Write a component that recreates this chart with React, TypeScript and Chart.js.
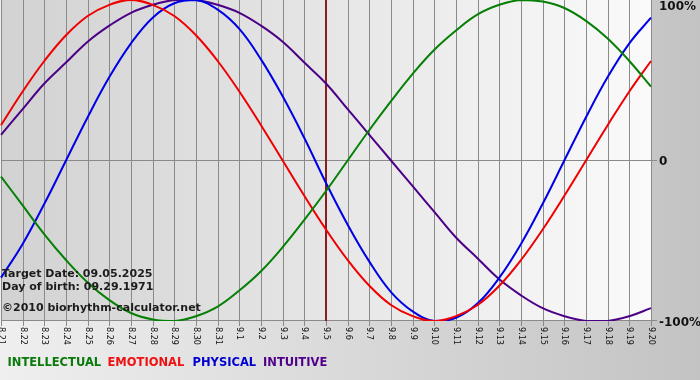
import React, { useEffect, useRef } from 'react';
import { Chart, registerables } from 'chart.js';

Chart.register(...registerables);

const dates = ['8.21', '8.22', '8.23', '8.24', '8.25', '8.26', '8.27', '8.28', '8.29', '8.30', '8.31',
  '9.1', '9.2', '9.3', '9.4', '9.5', '9.6', '9.7', '9.8', '9.9', '9.10',
  '9.11', '9.12', '9.13', '9.14', '9.15', '9.16', '9.17', '9.18', '9.19', '9.20'];

const intellectual = [-10, -28, -46, -62, -76, -87, -95, -99, -100, -97, -91, -81, -69, -54, -37, -19, 0, 19, 37, 54, 69, 81, 91, 97, 100, 99, 95, 87, 76, 62, 46];
const emotional = [22, 43, 62, 78, 90, 97, 100, 97, 90, 78, 62, 43, 22, 0, -22, -43, -62, -78, -90, -97, -100, -97, -90, -78, -62, -43, -22, 0, 22, 43, 62];
const physical = [-73, -52, -27, 0, 27, 52, 73, 89, 98, 100, 94, 82, 63, 40, 14, -14, -40, -63, -82, -94, -100, -98, -89, -73, -52, -27, 0, 27, 52, 73, 89];
const intuitive = [16, 32, 48, 61, 74, 84, 92, 97, 100, 100, 97, 92, 84, 74, 61, 48, 32, 16, 0, -16, -32, -48, -61, -74, -84, -92, -97, -100, -100, -97, -92];

const seriesNames = ['INTELLECTUAL', 'EMOTIONAL', 'PHYSICAL', 'INTUITIVE'];
const lineColors = ['#058005', '#f00000', '#0000e6', '#4b0086'];
const legendColors = ['#0a7a0a', '#f01010', '#0000d0', '#50008a'];

const targetDate = '9.5';
const yTicks = [100, 0, -100];
const yTickLabels = ['100%', '0', '-100%'];
const infoLines = ['Target Date: 09.05.2025', 'Day of birth: 09.29.1971', '©2010 biorhythm-calculator.net'];

export default function App() {
  const ref = useRef<HTMLCanvasElement>(null);

  useEffect(() => {
    const canvas = ref.current!;
    const plugin = {
      id: 'bioDecor',
      beforeDraw(chart: any) {
        const { ctx, chartArea: a, width, height } = chart;
        ctx.save();
        let g = ctx.createLinearGradient(0, 0, width, 0);
        g.addColorStop(0, '#efefef');
        g.addColorStop(1, '#c3c3c3');
        ctx.fillStyle = g;
        ctx.fillRect(0, 0, width, height);
        g = ctx.createLinearGradient(a.left, 0, a.right, 0);
        g.addColorStop(0, '#d2d2d2');
        g.addColorStop(1, '#fafafa');
        ctx.fillStyle = g;
        ctx.fillRect(a.left, a.top, a.right - a.left, a.bottom - a.top);

        const xs = chart.scales.x;
        const ys = chart.scales.y;
        ctx.strokeStyle = '#8a8a8a';
        ctx.lineWidth = 1;
        dates.forEach((_d, i) => {
          const x = Math.round(xs.getPixelForValue(i)) + 0.5;
          ctx.beginPath();
          ctx.moveTo(x, a.top);
          ctx.lineTo(x, a.bottom + 5);
          ctx.stroke();
        });
        [0, -100].forEach((v) => {
          const y = Math.round(ys.getPixelForValue(v)) - 0.5;
          ctx.beginPath();
          ctx.moveTo(a.left, y);
          ctx.lineTo(a.right + 6, y);
          ctx.stroke();
        });
        const ti = dates.indexOf(targetDate);
        const tx = Math.round(xs.getPixelForValue(ti));
        ctx.strokeStyle = '#8b1c1c';
        ctx.lineWidth = 2;
        ctx.beginPath();
        ctx.moveTo(tx, a.top);
        ctx.lineTo(tx, a.bottom);
        ctx.stroke();
        ctx.restore();
      },
      afterDraw(chart: any) {
        const { ctx, chartArea: a } = chart;
        const xs = chart.scales.x;
        const ys = chart.scales.y;
        ctx.save();
        // x labels rotated clockwise
        ctx.fillStyle = '#111';
        ctx.font = '9px "DejaVu Sans Condensed", "DejaVu Sans", sans-serif';
        ctx.textAlign = 'left';
        ctx.textBaseline = 'middle';
        dates.forEach((d, i) => {
          const x = Math.round(xs.getPixelForValue(i)) + 0.5;
          ctx.save();
          ctx.translate(x, a.bottom + 6);
          ctx.rotate(Math.PI / 2);
          ctx.fillText(d, 0, 0);
          ctx.restore();
        });
        // y labels
        ctx.font = 'bold 12px "DejaVu Sans", sans-serif';
        ctx.fillStyle = '#111';
        ctx.textBaseline = 'middle';
        yTicks.forEach((v, i) => {
          let y = ys.getPixelForValue(v);
          if (i === 0) y += 7;
          else y += 1.5;
          ctx.fillText(yTickLabels[i], a.right + 8, y);
        });
        // info text
        ctx.font = 'bold 11px "DejaVu Sans", sans-serif';
        ctx.fillStyle = '#1c1c1c';
        ctx.textBaseline = 'alphabetic';
        const infoY = [277, 290, 310.5];
        infoLines.forEach((t, i) => ctx.fillText(t, 2, infoY[i]));
        // legend
        ctx.font = 'bold 11.5px "DejaVu Sans", sans-serif';
        const legendX = [7.5, 107.5, 192.5, 263];
        seriesNames.forEach((n, i) => {
          ctx.fillStyle = legendColors[i];
          ctx.fillText(n, legendX[i], 366);
        });
        ctx.restore();
      },
    };

    const mk = (label: string, data: number[], color: string) => ({
      label,
      data,
      borderColor: color,
      backgroundColor: color,
      borderWidth: 2,
      pointRadius: 0,
      tension: 0.4,
      fill: false,
    });

    const chart = new Chart(canvas, {
      type: 'line',
      data: {
        labels: dates,
        datasets: [
          mk(seriesNames[0], intellectual, lineColors[0]),
          mk(seriesNames[1], emotional, lineColors[1]),
          mk(seriesNames[2], physical, lineColors[2]),
          mk(seriesNames[3], intuitive, lineColors[3]),
        ],
      },
      options: {
        responsive: false,
        animation: false,
        devicePixelRatio: 1,
        layout: { padding: { left: 1, right: 49, top: 0, bottom: 59 } },
        plugins: { legend: { display: false }, tooltip: { enabled: false } },
        scales: {
          x: { type: 'category', display: false, offset: false },
          y: { display: false, min: -100, max: 100, position: 'right' },
        },
      },
      plugins: [plugin],
    });
    return () => chart.destroy();
  }, []);

  return (
    <div style={{ position: 'absolute', left: 0, top: 0, width: 700, height: 380 }}>
      <canvas ref={ref} width={700} height={380} style={{ display: 'block' }} />
    </div>
  );
}
